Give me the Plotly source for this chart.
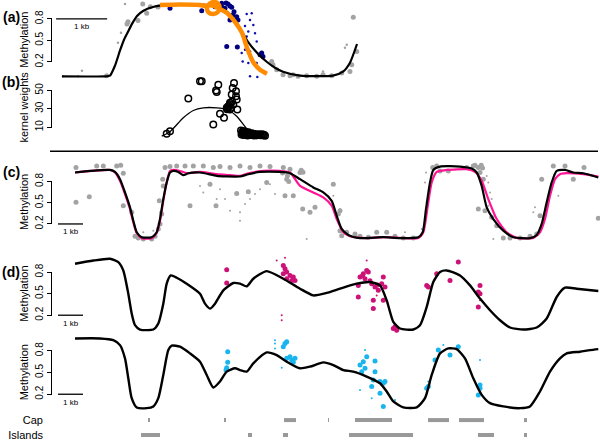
import plotly.graph_objects as go

W, H = 600, 441
FONT = "Liberation Sans"

# ---------------- (a) zoomed region, positions in kb ----------------
a_fit_kb = [0.235, 1.078, 1.176, 1.275, 1.373, 1.451, 1.529, 1.608, 1.706, 1.824, 2.02, 2.255,
            2.941, 3.235, 3.431, 3.627, 3.882, 4.078, 4.255, 4.412, 4.569, 4.902, 5.549, 5.745,
            5.882, 6.02]
a_fit_meth = [0.0, 0.0, 0.01, 0.15, 0.36, 0.51, 0.62, 0.73, 0.84, 0.91, 0.965, 0.99,
              1.0, 0.985, 0.92, 0.785, 0.48, 0.315, 0.2, 0.12, 0.065, 0.01, 0.01, 0.065,
              0.19, 0.45]

a_local_kb = [2.157, 2.549, 2.941, 3.078, 3.137, 3.216, 3.294, 3.324, 3.284, 3.196, 3.108, 3.078,
              3.118, 3.216, 3.333, 3.471, 3.627, 3.765, 3.863, 3.98, 4.118, 4.255]
a_local_meth = [0.993, 1.0, 0.993, 0.979, 1.014, 1.035, 1.014, 0.952, 0.889, 0.868, 0.889, 0.952,
                0.986, 0.979, 0.938, 0.882, 0.758, 0.605, 0.398, 0.204, 0.093, 0.037]

a_blue_kb = [2.353, 2.975, 3.235, 3.367, 3.49, 3.529, 3.563, 3.431, 3.588, 3.661, 3.529, 3.686,
             3.465, 3.673, 4.151, 4.176, 4.118, 3.373, 3.451, 3.608]
a_blue_meth = [0.947, 0.914, 0.97, 1.017, 1.007, 0.979, 0.961, 0.947, 0.854, 0.831, 0.785, 0.785,
               0.416, 0.407, 0.324, 0.277, 0.301, 0.965, 1.02, 0.9]
a_blue_small_kb = [3.857, 3.955, 3.922, 3.824, 3.986, 3.888, 4.02, 3.857, 4.053, 3.824, 3.759,
                   3.922, 3.778, 3.888, 4.053, 3.922, 4.065]
a_blue_small_meth = [0.868, 0.878, 0.785, 0.702, 0.716, 0.623, 0.601, 0.554, 0.485, 0.37, 0.324,
                     0.346, 0.208, 0.186, 0.186, 0.0, -0.01]

a_gray_kb = [1.818, 1.529, 1.51, 1.725, 1.896, 1.967, 2.118, 1.112, 4.347, 4.373, 4.445, 4.569,
             4.706, 4.863, 5.033, 5.229, 5.353, 5.524, 5.72, 5.882, 5.916, 6.014, 5.947, 4.765]
a_gray_meth = [1.007, 0.758, 0.73, 0.776, 0.878, 0.97, 0.965, 0.01, 0.208, 0.162, 0.093, 0.024,
               0.01, 0.0, 0.01, 0.0, 0.024, 0.01, 0.047, 0.069, 0.162, 0.346, 0.823, 0.024]
a_gray_small_kb = [0.627, 1.333, 1.392, 1.471, 1.078, 0.549, 0.255, 5.818, 5.784, 5.353]
a_gray_small_meth = [0.079, 0.467, 0.605, 1.007, 0.0, 0.0, 0.0, 0.439, 0.398, 0.069]

# ---------------- (b) kernel weights ----------------
b_kernel_kb = [2.19, 2.353, 2.614, 2.81, 3.006, 3.269, 3.465, 3.661, 3.79, 3.922, 4.02]
b_kernel_w = [0.3, 5.1, 20.2, 28.1, 31.0, 31.0, 29.2, 21.9, 13.0, 4.0, 0.3]

b_pts_kb = [2.941, 2.975, 3.3, 3.255, 3.269, 2.712, 3.608, 3.582, 3.647, 3.563, 3.647, 3.661,
            3.529, 3.594, 3.496, 3.465, 3.529, 3.673, 3.333, 3.412, 3.202, 2.353, 2.288,
            3.49, 3.51, 3.55, 3.53, 3.57, 3.47,
            3.745, 3.765, 3.784, 3.804, 3.824, 3.843, 3.863, 3.882, 3.902, 3.922, 3.941, 3.98,
            4.02, 4.059, 4.098, 4.137, 4.176, 4.216, 3.755, 3.794, 3.833, 3.873, 3.96, 4.0,
            3.775, 3.814, 3.853, 3.892, 3.912, 3.951, 3.99, 4.04, 4.078, 4.118, 4.157, 4.196]
b_pts_w = [59.8, 59.8, 56.2, 49.7, 48.3, 41.1, 58.1, 52.6, 49.0, 45.4, 43.6, 40.0,
           36.4, 34.6, 32.8, 31.0, 29.2, 29.2, 24.5, 20.2, 13.0, 5.7, 2.9,
           30.5, 33.0, 31.0, 35.0, 38.0, 29.5,
           6.5, 4.3, 5.9, 3.2, 4.9, 2.2, 3.8, 2.2, 3.2, 1.6, 2.7, 1.6,
           2.2, 1.1, 1.6, 1.1, 1.1, 0.8, 2.0, 1.5, 5.0, 1.0, 2.5, 1.0,
           3.0, 4.0, 1.5, 4.5, 1.8, 3.5, 2.8, 1.3, 2.4, 2.0, 2.3, 1.8]

# ---------------- (c) full region ----------------
c_fit_kb = [1.0, 1.6, 2.4, 2.6, 2.8, 3.0, 3.2, 3.332, 3.468, 3.668, 4.068, 4.268, 4.4, 4.532,
            4.668, 4.8, 4.932, 5.132, 5.332, 5.532, 6.0, 6.668, 7.068, 7.6, 7.932, 8.4, 9.2,
            9.6, 10.0, 10.532, 10.932, 11.268, 11.468, 11.668, 11.932, 12.4, 13.332, 14.0,
            14.732, 14.908, 15.04, 15.2, 15.332, 15.6, 16.4, 16.868, 17.068, 17.268, 17.468,
            17.732, 18.132, 18.532, 19.2, 19.468, 19.668, 19.868, 20.068, 20.268, 20.6,
            20.932, 21.332, 21.932]
c_fit_meth = [0.927, 0.949, 0.963, 0.935, 0.833, 0.646, 0.435, 0.246, 0.083, 0.013, 0.013, 0.083,
              0.27, 0.551, 0.786, 0.927, 0.949, 0.935, 0.889, 0.917, 0.927, 0.879, 0.871, 0.871,
              0.903, 0.935, 0.935, 0.917, 0.833, 0.716, 0.646, 0.527, 0.316, 0.129, 0.045, 0.0,
              0.013, 0.0, 0.013, 0.083, 0.411, 0.786, 0.963, 1.011, 1.011, 0.983, 0.927, 0.738,
              0.435, 0.27, 0.105, 0.013, 0.0, 0.045, 0.2, 0.505, 0.786, 0.949, 0.963, 0.927,
              0.917, 0.857]

c_alt_kb = [1.0, 2.4, 2.6, 2.8, 3.0, 3.2, 3.332, 3.468, 3.668, 4.068, 4.268, 4.4, 4.532, 4.668,
            4.8, 4.932, 5.2, 5.468, 6.0, 6.668, 7.2, 7.6, 7.932, 8.532, 9.2, 9.6, 10.0, 10.532,
            10.932, 11.268, 11.468, 11.732, 12.0, 12.668, 13.332, 14.732, 14.932, 15.092,
            15.268, 15.468, 15.868, 16.668, 17.0, 17.268, 17.532, 17.868, 18.268, 18.668,
            19.332, 19.6, 19.8, 20.0, 20.2, 20.4, 20.668, 21.332, 21.932]
c_alt_meth = [0.927, 0.963, 0.927, 0.809, 0.622, 0.411, 0.224, 0.073, 0.0, 0.0, 0.073, 0.246,
              0.527, 0.786, 0.949, 0.963, 0.949, 0.917, 0.935, 0.903, 0.889, 0.879, 0.917,
              0.949, 0.949, 0.927, 0.738, 0.646, 0.575, 0.457, 0.27, 0.083, 0.027, 0.0, 0.013,
              0.003, 0.083, 0.411, 0.786, 0.935, 0.963, 0.973, 0.935, 0.809, 0.551, 0.27, 0.083,
              0.003, 0.003, 0.083, 0.27, 0.598, 0.833, 0.903, 0.917, 0.903, 0.871]

c_gray_kb = [1.04, 1.04, 1.572, 1.868, 2.132, 2.668, 2.828, 2.932, 2.932, 3.268, 3.4, 3.532,
             3.732, 4.068, 4.2, 4.332, 4.4, 4.468, 4.372, 4.532, 4.508, 4.6, 4.8, 5.068, 5.4,
             5.732, 6.132, 6.532, 6.8, 7.2, 7.6, 8.0, 8.4, 8.8, 9.332, 9.6, 9.468, 9.732, 9.4,
             8.668, 7.932, 7.468, 6.64, 6.4, 5.6, 10.0, 10.108, 10.4, 10.6, 11.332, 11.6,
             11.532, 11.6, 11.668, 11.868, 12.2, 12.4, 12.732, 13.068, 13.468, 13.8, 14.132,
             14.532, 15.308, 15.468, 15.6, 15.932, 16.668, 16.932, 17.132, 17.2, 17.332,
             17.132, 17.4, 17.668, 17.868, 18.132, 18.4, 18.8, 19.2, 19.468, 19.6, 19.668,
             20.132, 20.6, 20.932, 21.36, 21.932, 17.0, 17.25, 17.3, 9.3, 9.5, 9.55, 10.05,
             10.12]
c_gray_meth = [0.997, 0.505, 0.584, 1.02, 1.02, 1.02, 1.03, 0.917, 0.457, 0.364, 0.027, 0.0,
               -0.011, -0.011, 0.027, 0.129, 0.2, 0.34, 0.527, 0.738, 0.833, 0.997, 1.011, 1.02,
               1.02, 1.02, 1.02, 0.997, 1.011, 0.997, 1.02, 0.997, 1.02, 1.011, 0.997, 0.973,
               0.833, 0.598, 0.598, 0.786, 0.654, 0.632, 0.457, 0.762, 0.457, 0.927, 0.411,
               0.364, 0.435, 0.762, 0.387, 0.34, 0.105, 0.035, 0.083, 0.059, 0.027, 0.013,
               0.083, 0.083, 0.027, 0.0, 0.0, 0.997, 1.02, 0.949, 0.949, 0.997, 1.02, 0.997,
               0.927, 0.833, 0.411, 0.387, 0.294, 0.176, 0.0, 0.0, 0.0, 0.027, 0.059, 0.316,
               0.833, 1.02, 1.02, 0.833, 0.997, 0.28, 1.03, 1.03, 0.99, 0.92, 0.88, 0.8, 0.96,
               0.93]
c_gray_small_kb = [7.6, 7.6, 7.2, 6.0, 6.132, 6.668, 8.0, 8.4, 3.732, 4.132, 3.268, 4.4, 15.04,
                   15.0, 15.068, 17.468, 17.532, 17.6, 17.668, 17.532, 17.732, 19.4, 19.332,
                   20.332, 10.268, 11.6, 11.332, 14.2, 14.868, 6.8, 7.0, 7.8, 8.2, 8.8, 9.0]
c_gray_small_meth = [0.364, 0.246, 0.387, 0.738, 0.646, 0.551, 0.551, 0.692, 0.083, 0.105, 0.316,
                     0.364, 0.927, 0.786, 0.505, 0.879, 0.786, 0.646, 0.551, 0.457, -0.011,
                     0.435, 0.364, 0.598, -0.011, 0.411, 0.598, 0.083, 0.129, 0.692, 0.551,
                     0.481, 0.622, 0.762, 0.622]

# ---------------- (d) two samples ----------------
d1_fit_kb = [1.0, 1.732, 2.4, 2.732, 2.932, 3.132, 3.268, 3.4, 3.6, 4.132, 4.332, 4.532, 4.668,
             4.828, 5.068, 5.468, 6.0, 6.2, 6.4, 6.6, 6.932, 7.332, 7.6, 7.868, 8.132, 8.668,
             9.332, 10.0, 10.532, 11.068, 11.6, 12.268, 12.8, 13.2, 13.468, 13.732, 14.0,
             14.532, 14.8, 15.068, 15.332, 15.6, 15.868, 16.4, 16.8, 17.2, 17.6, 18.0, 18.4,
             18.932, 19.468, 19.868, 20.268, 20.6, 21.068, 21.932]
d1_fit_meth = [0.916, 0.961, 0.985, 0.939, 0.823, 0.5, 0.223, 0.061, 0.001, 0.001, 0.084, 0.361,
               0.639, 0.753, 0.722, 0.639, 0.5, 0.361, 0.292, 0.361, 0.546, 0.648, 0.639, 0.601,
               0.708, 0.814, 0.708, 0.569, 0.476, 0.51, 0.569, 0.639, 0.662, 0.615, 0.407,
               0.108, 0.015, 0.001, 0.061, 0.316, 0.662, 0.801, 0.823, 0.753, 0.615, 0.431,
               0.269, 0.13, 0.029, 0.001, 0.029, 0.154, 0.454, 0.583, 0.569, 0.537]
d1_dots_kb = [12.4, 12.532, 12.668, 12.732, 12.6, 12.332, 12.868, 13.0, 13.132, 13.332, 13.4,
              13.268, 12.332, 12.932, 13.332, 12.932, 13.732, 13.868, 13.8, 15.132, 15.068,
              15.468, 16.0, 16.332, 17.2, 17.132, 17.2, 17.132, 7.068, 7.068, 9.332, 9.4,
              9.468, 9.6, 9.732, 9.8, 9.668, 9.468, 9.332, 12.5, 12.8, 13.1]
d1_dots_meth = [0.731, 0.777, 0.823, 0.801, 0.708, 0.615, 0.639, 0.593, 0.546, 0.731, 0.593,
                0.639, 0.454, 0.407, 0.407, 0.292, 0.015, -0.008, 0.039, 0.593, 0.615, 0.777,
                0.684, 0.939, 0.615, 0.524, 0.5, 0.316, 0.832, 0.648, 0.892, 0.846, 0.801,
                0.753, 0.731, 0.684, 0.684, 0.708, 0.777, 0.75, 0.68, 0.62]
d1_small_kb = [9.068, 9.4, 9.268, 9.268, 12.668, 13.068, 17.2]
d1_small_meth = [0.961, 0.999, 0.199, 0.13, 0.961, 0.476, 0.407]

d2_fit_kb = [1.0, 2.0, 2.532, 2.8, 3.0, 3.132, 3.268, 3.468, 3.868, 4.132, 4.332, 4.532, 4.732,
             4.868, 5.2, 5.6, 6.0, 6.268, 6.532, 6.8, 7.068, 7.4, 7.6, 7.868, 8.132, 8.668,
             9.068, 9.468, 10.0, 10.4, 10.932, 11.332, 11.732, 12.132, 12.668, 13.2, 13.468,
             13.732, 14.132, 14.668, 15.0, 15.268, 15.6, 15.932, 16.268, 16.6, 16.932, 17.268,
             17.6, 18.132, 18.8, 19.2, 19.6, 20.0, 20.4, 20.668, 21.2, 21.6, 21.932]
d2_fit_meth = [0.97, 0.97, 0.946, 0.878, 0.695, 0.42, 0.146, 0.018, 0.008, 0.032, 0.146, 0.466,
               0.809, 0.87, 0.856, 0.764, 0.65, 0.466, 0.293, 0.375, 0.512, 0.558, 0.534, 0.512,
               0.626, 0.777, 0.74, 0.65, 0.558, 0.581, 0.64, 0.603, 0.534, 0.512, 0.444, 0.352,
               0.238, 0.1, 0.018, 0.018, 0.146, 0.466, 0.764, 0.832, 0.823, 0.695, 0.42, 0.191,
               0.077, 0.032, 0.008, 0.032, 0.238, 0.512, 0.695, 0.764, 0.787, 0.809, 0.823]
d2_dots_kb = [7.108, 7.108, 7.068, 7.04, 9.4, 9.468, 9.332, 9.468, 9.668, 9.8, 9.6, 9.732, 12.4,
              12.532, 12.668, 12.6, 12.468, 13.0, 13.0, 12.932, 12.868, 13.2, 13.332, 13.2,
              13.332, 13.4, 15.532, 16.332, 16.0, 15.4, 15.068, 15.132, 17.2, 17.132, 17.2]
d2_dots_meth = [0.787, 0.64, 0.567, 0.534, 0.901, 0.924, 0.856, 0.695, 0.672, 0.695, 0.718,
                0.64, 0.603, 0.65, 0.718, 0.558, 0.512, 0.658, 0.512, 0.397, 0.306, 0.375,
                0.352, 0.214, 0.032, 0.375, 0.809, 0.856, 0.74, 0.672, 0.283, 0.306, 0.328,
                0.191, 0.283]
d2_small_kb = [9.0, 9.0, 9.0, 9.268, 12.6, 12.4, 12.868, 13.8, 15.732, 17.2, 15.132]
d2_small_meth = [0.946, 0.901, 0.832, 0.567, 0.809, 0.26, 0.146, 0.122, 0.878, 0.672, 0.375]

# ---------------- annotation tracks ----------------
cap_start = [3.92, 6.96, 9.36, 11.12, 12.2, 15.12, 16.36, 18.96]
cap_end = [4.0, 7.04, 9.84, 11.16, 13.68, 15.96, 17.36, 19.08]
island_start = [3.64, 7.92, 9.32, 11.96, 17.12, 18.96]
island_end = [4.4, 8.08, 9.52, 14.52, 17.76, 19.08]

GRAY = "#a3a3a3"
NAVY = "#000080"
ORANGE = "#ff8c00"
PINK_LINE = "#ff1493"
PINK_DOT = "#cc1177"
CYAN = "#19b5ee"


def yrange(zero_px, px_per_unit):
    # y axes fill the whole page; the range puts value 0 at zero_px
    return [(zero_px - H) / px_per_unit, zero_px / px_per_unit]


def dots(x, y, xa, ya, color, size, symbol="circle", lw=0):
    return go.Scatter(x=x, y=y, xaxis=xa, yaxis=ya, mode="markers",
                      marker=dict(color=color, size=size, symbol=symbol,
                                  line=dict(width=lw, color=color)),
                      showlegend=False, hoverinfo="skip")


def curve(x, y, xa, ya, color, width):
    return go.Scatter(x=x, y=y, xaxis=xa, yaxis=ya, mode="lines",
                      line=dict(color=color, width=width, shape="spline", smoothing=0.6),
                      showlegend=False, hoverinfo="skip")


fig = go.Figure()

# (a)
fig.add_trace(dots(a_gray_small_kb, a_gray_small_meth, "x", "y", GRAY, 2.5))
fig.add_trace(dots(a_gray_kb, a_gray_meth, "x", "y", GRAY, 5))
fig.add_trace(dots(a_blue_small_kb, a_blue_small_meth, "x", "y", "#1010b0", 2.5))
fig.add_trace(dots(a_blue_kb, a_blue_meth, "x", "y", NAVY, 5))
fig.add_trace(curve(a_fit_kb, a_fit_meth, "x", "y", "black", 2.2))
fig.add_trace(go.Scatter(x=a_local_kb, y=a_local_meth, xaxis="x", yaxis="y", mode="lines",
                         line=dict(color=ORANGE, width=4.5, shape="spline", smoothing=0.8),
                         showlegend=False, hoverinfo="skip"))
# (b)
fig.add_trace(curve(b_kernel_kb, b_kernel_w, "x", "y2", "black", 1.3))
fig.add_trace(dots(b_pts_kb, b_pts_w, "x", "y2", "black", 6.5, "circle-open", 1.5))
# (c)
fig.add_trace(dots(c_gray_small_kb, c_gray_small_meth, "x2", "y3", GRAY, 2))
fig.add_trace(dots(c_gray_kb, c_gray_meth, "x2", "y3", GRAY, 5))
fig.add_trace(curve(c_alt_kb, c_alt_meth, "x2", "y3", PINK_LINE, 2.2))
fig.add_trace(curve(c_fit_kb, c_fit_meth, "x2", "y3", "black", 2.2))
# (d)
fig.add_trace(dots(d1_small_kb, d1_small_meth, "x2", "y4", PINK_DOT, 2))
fig.add_trace(dots(d1_dots_kb, d1_dots_meth, "x2", "y4", PINK_DOT, 5))
fig.add_trace(curve(d1_fit_kb, d1_fit_meth, "x2", "y4", "black", 2.4))
fig.add_trace(dots(d2_small_kb, d2_small_meth, "x2", "y5", CYAN, 2))
fig.add_trace(dots(d2_dots_kb, d2_dots_meth, "x2", "y5", CYAN, 5))
fig.add_trace(curve(d2_fit_kb, d2_fit_meth, "x2", "y5", "black", 2.4))

# tracks
for starts, ends, row in ((cap_start, cap_end, 1), (island_start, island_end, 0)):
    xs, ys = [], []
    for s, e in zip(starts, ends):
        xs += [s, e, None]
        ys += [row, row, None]
    fig.add_trace(go.Scatter(x=xs, y=ys, xaxis="x2", yaxis="y6", mode="lines",
                             line=dict(color="#999999", width=4), showlegend=False,
                             hoverinfo="skip"))

AXIS_X = 51.5 / W


def yaxis(rng, tickvals, ticktext=None, ticklen=5, pos=AXIS_X, size=10):
    d = dict(range=rng, domain=[0, 1], anchor="free", position=pos, showgrid=False,
             zeroline=False, showline=False, tickmode="array", tickvals=tickvals,
             ticks="outside" if ticklen else "", ticklen=ticklen, tickwidth=1,
             tickcolor="black", tickangle=-90 if ticktext is None else 0,
             ticklabeloverflow="allow",
             tickfont=dict(family=FONT, size=size, color="black"), fixedrange=True)
    if ticktext is not None:
        d["ticktext"] = ticktext
    return d


meth_ticks = [0.2, 0.5, 0.8]
fig.update_layout(
    width=W, height=H, margin=dict(l=0, r=0, t=0, b=0, pad=0),
    paper_bgcolor="white", plot_bgcolor="rgba(0,0,0,0)",
    font=dict(family=FONT, color="black"),
    xaxis=dict(domain=[0, 1], range=[-50 / 51, 550 / 51], visible=False),
    xaxis2=dict(domain=[0, 1], range=[-2, 22], visible=False, anchor="y3"),
    yaxis=yaxis(yrange(76.7, 72.2), meth_ticks),
    yaxis2=yaxis(yrange(137, 0.925), [10, 30, 50]),
    yaxis3=yaxis(yrange(239.2, 71.1), meth_ticks),
    yaxis4=yaxis(yrange(331.1, 72.2), meth_ticks),
    yaxis5=yaxis(yrange(410.6, 72.8), meth_ticks),
    yaxis6=yaxis(yrange(437, 15), [1, 0], ["Cap", "Islands"], ticklen=0,
                 pos=43 / W, size=11),
)

shapes = []
# axis lines from first to last tick, R style
for ya, lo, hi in (("y", 0.2, 0.8), ("y2", 10, 50), ("y3", 0.2, 0.8),
                   ("y4", 0.2, 0.8), ("y5", 0.2, 0.8)):
    shapes.append(dict(type="line", xref="paper", yref=ya, x0=AXIS_X, x1=AXIS_X,
                       y0=lo, y1=hi, line=dict(color="black", width=1)))
# divider between (a,b) and (c,d)
shapes.append(dict(type="line", xref="paper", yref="paper", x0=50 / W, x1=598 / W,
                   y0=1 - 152 / H, y1=1 - 152 / H, line=dict(color="black", width=1.5)))

annotations = []
# 1 kb scale bars
for xa, ya, x0, yv in (("x", "y", 0.12, 0.8), ("x2", "y3", 0.32, 0.2),
                       ("x2", "y4", 0.32, 0.2), ("x2", "y5", 0.32, 0.2)):
    shapes.append(dict(type="line", xref=xa, yref=ya, x0=x0, x1=x0 + 1, y0=yv, y1=yv,
                       line=dict(color="black", width=1.3)))
    annotations.append(dict(xref=xa, yref=ya, x=x0 + 0.5, y=yv, text="1 kb", showarrow=False,
                            xanchor="center", yanchor="middle", yshift=-8,
                            font=dict(family=FONT, size=8)))

for text, ypx in (("(a)", 17), ("(b)", 82), ("(c)", 173), ("(d)", 273)):
    annotations.append(dict(xref="paper", yref="paper", x=11 / W, y=1 - ypx / H,
                            text="<b>%s</b>" % text, showarrow=False,
                            xanchor="center", yanchor="middle",
                            font=dict(family=FONT, size=14)))

for text, ypx in (("Methylation", 40), ("kernel weights", 108), ("Methylation", 203),
                  ("Methylation", 295), ("Methylation", 374)):
    annotations.append(dict(xref="paper", yref="paper", x=24 / W, y=1 - ypx / H,
                            text=text, textangle=-90, showarrow=False,
                            xanchor="center", yanchor="middle",
                            font=dict(family=FONT, size=11)))

fig.update_layout(shapes=shapes, annotations=annotations)

# the page body has a default margin; drop it so the figure sits at the window corner
fig.write_html("out.html", config={"displayModeBar": False},
               post_script="document.body.style.margin='0px';")
